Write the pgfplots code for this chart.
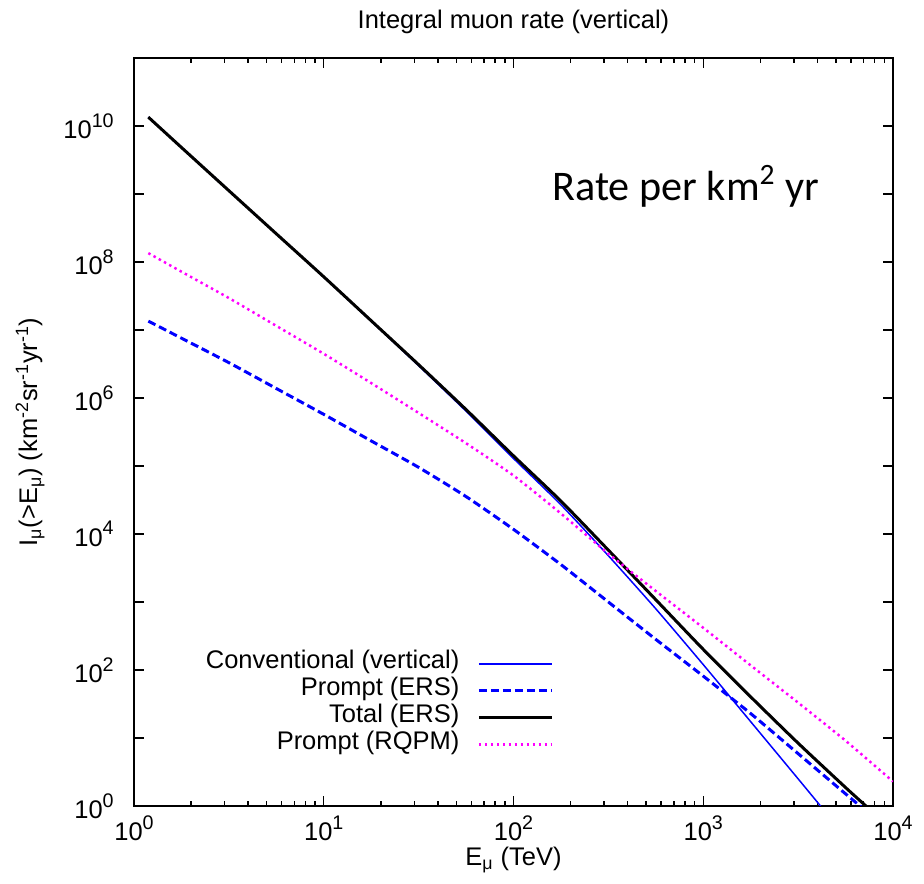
\documentclass[border=0pt]{standalone}
\usepackage{fontspec}
\setmainfont{Liberation Sans}
\newfontfamily\calibri{Carlito}
\usepackage{pgfplots}
\pgfplotsset{compat=1.18}
\definecolor{gpblue}{RGB}{0,0,255}
\definecolor{gpmag}{RGB}{255,0,255}
\newcommand\tp[1]{{\fontsize{14.5}{17}\selectfont 10\raisebox{0.45em}{\fontsize{11.2}{12}\selectfont #1}}}
\begin{document}
\fontsize{14.5}{17}\selectfont
\begin{tikzpicture}
\begin{loglogaxis}[
  scale only axis, width=15.18cm, height=14.96cm,
  xmin=1, xmax=1e4, ymin=1, ymax=1e11,
  axis line style={line width=1.3pt},
  every tick/.style={black, line width=0.85pt},
  major tick length=0.2cm, minor tick length=0.1cm,
  tick align=inside,
  xtick={1,10,100,1000,10000},
  xticklabels={\tp{0},\tp{1},\tp{2},\tp{3},\tp{4}},
  ytick={1,10,100,1e3,1e4,1e5,1e6,1e7,1e8,1e9,1e10},
  yticklabels={\tp{0},{},\tp{2},{},\tp{4},{},\tp{6},{},\tp{8},{},\tp{10}},
  yminorticks=false,
  tick label style={font=\fontsize{14.5}{17}\selectfont},
  xticklabel style={anchor=base, inner sep=0pt, yshift=-0.7cm},
  yticklabel style={anchor=east, inner sep=0pt, xshift=-0.4cm},
  title={Integral muon rate (vertical)},
  title style={at={(axis description cs:0.5,1.026)}, anchor=base, inner sep=0pt, font=\fontsize{14.5}{17}\selectfont},
  xlabel={E\textsubscript{μ} (TeV)},
  xlabel style={at={(axis description cs:0.5,-0.0802)}, anchor=base, inner sep=0pt, font=\fontsize{14.5}{17}\selectfont},
  ylabel={I\textsubscript{μ}(>E\textsubscript{μ}) (km\textsuperscript{-2}sr\textsuperscript{-1}yr\textsuperscript{-1})},
  ylabel style={at={(axis description cs:-0.137,0.5)}, anchor=center, inner sep=0pt, font=\fontsize{14.5}{17}\selectfont},
  legend cell align=right,
  legend plot pos=right,
  legend style={at={(0.553,0.2086)}, anchor=north east, draw=none, fill=none,
    inner sep=0pt, row sep=0pt, column sep=0.36cm, font=\fontsize{14.5}{17}\selectfont,
    nodes={inner sep=0pt, text height=10.5pt, text depth=4.8pt}},
  legend image code/.code={\draw[#1] (0cm,0cm) -- (1.46cm,0cm);},
]
\addplot[gpblue, line width=0.85pt, smooth, tension=0.4] coordinates {
(1.19,1.35e10) (1.778,4.84e9) (3.162,1.12e9) (5.623,2.60e8) (10,6.0e7) (17.78,1.35e7) (31.62,2.99e6) (56.23,6.40e5) (100,1.29e5) (177.8,2.69e4) (316.2,4.79e3) (562.3,794) (1000,120) (1778,17.4) (3162,2.51) (4266,0.91)
};
\addlegendentry{Conventional (vertical)}
\addplot[gpblue, line width=1.7pt, dash pattern=on 0.16cm off 0.08cm, smooth, tension=0.4] coordinates {
(1.19,1.35e7) (1.778,7.59e6) (3.162,3.31e6) (5.623,1.38e6) (10,5.75e5) (17.78,2.34e5) (31.62,9.55e4) (56.23,3.55e4) (100,1.17e4) (177.8,3.55e3) (316.2,1.0e3) (562.3,282) (1000,81.3) (1778,22.9) (3162,5.89) (5623,1.51) (7413,0.79)
};
\addlegendentry{Prompt (ERS)}
\addplot[black, line width=1.7pt, smooth, tension=0.4] coordinates {
(1.19,1.35e10) (1.778,4.84e9) (3.162,1.12e9) (5.623,2.60e8) (10,6.06e7) (17.78,1.37e7) (31.62,3.09e6) (56.23,6.76e5) (100,1.41e5) (177.8,3.05e4) (316.2,5.79e3) (562.3,1.08e3) (1000,201) (1778,40.3) (3162,8.40) (5623,1.87) (7413,0.93)
};
\addlegendentry{Total (ERS)}
\addplot[gpmag, line width=1.4pt, dash pattern=on 1.4pt off 2pt, smooth, tension=0.4] coordinates {
(1.19,1.35e8) (1.778,7.21e7) (3.162,2.95e7) (5.623,1.15e7) (10,4.47e6) (17.78,1.66e6) (31.62,6.03e5) (56.23,2.16e5) (100,7.24e4) (177.8,2.0e4) (316.2,5.13e3) (562.3,1.45e3) (1000,417) (1778,117) (3162,33.1) (5623,9.12) (10000,2.29)
};
\addlegendentry{Prompt (RQPM)}
\node[anchor=base west, inner sep=0pt, font=\calibri\fontsize{24}{28}\selectfont] at (axis cs:160,8e8) {Rate per km\textsuperscript{2} yr};
\end{loglogaxis}
\pgfresetboundingbox
\path[use as bounding box] ([shift={(-2.68cm,-1.56cm)}]current axis.south west) rectangle ([shift={(0.62cm,1.16cm)}]current axis.north east);
\end{tikzpicture}
\end{document}
